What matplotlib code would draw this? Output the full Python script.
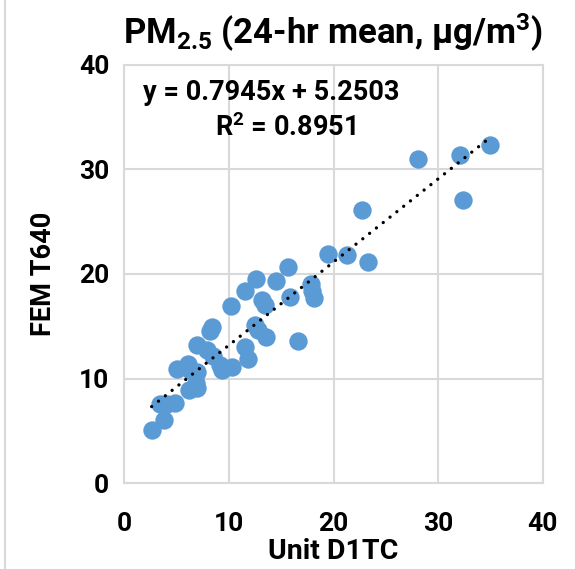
import matplotlib
matplotlib.use("Agg")
import matplotlib.pyplot as plt
from matplotlib.lines import Line2D

FONT = 'Roboto'
plt.rcParams['font.family'] = [FONT, 'DejaVu Sans']
plt.rcParams['font.weight'] = 'bold'
plt.rcParams['mathtext.fontset'] = 'custom'
plt.rcParams['mathtext.rm'] = FONT + ':bold'
plt.rcParams['mathtext.it'] = FONT + ':bold'
plt.rcParams['mathtext.bf'] = FONT + ':bold'

# Data (Unit D1TC vs FEM T640, 24-hr mean PM2.5)
unit_d1tc = [2.6, 3.8, 3.4, 4.1, 4.8, 5.0, 6.1, 6.3, 6.9, 6.2, 6.9, 6.8,
             6.9, 7.9, 8.5, 9.1, 9.3, 10.3, 8.2, 8.4, 10.2, 11.5, 11.8,
             11.5, 12.6, 12.5, 12.8, 13.5, 13.2, 13.4, 14.5, 15.6, 15.8,
             16.6, 17.8, 17.9, 18.1, 19.5, 21.3, 22.7, 23.3, 28.1, 32.1,
             35.0, 32.4]
fem_t640 = [5.1, 6.0, 7.6, 7.6, 7.7, 10.9, 11.4, 10.8, 10.6, 8.9, 9.1, 9.6,
            13.2, 12.7, 12.2, 11.3, 10.8, 11.1, 14.5, 14.9, 16.9, 13.0, 11.9,
            18.4, 19.5, 15.1, 14.6, 14.0, 17.5, 17.0, 19.3, 20.7, 17.8,
            13.6, 19.0, 18.4, 17.7, 21.9, 21.8, 26.1, 21.1, 31.0, 31.4,
            32.3, 27.1]
trend_slope = 0.7945
trend_intercept = 5.2503
r_squared = 0.8951

x_ticks = [0, 10, 20, 30, 40]
y_ticks = [0, 10, 20, 30, 40]

fig = plt.figure(figsize=(5.75, 5.69), dpi=100)
ax = fig.add_axes([0.2165, 0.151, 0.727, 0.735])

grid_col = '#D9D9D9'
ax.scatter(unit_d1tc, fem_t640, s=175, color='#5B9BD5', zorder=3, linewidths=0)

xmin, xmax = min(unit_d1tc), max(unit_d1tc)
ax.plot([xmin, xmax], [trend_slope * xmin + trend_intercept, trend_slope * xmax + trend_intercept],
        color='black', lw=2.4, linestyle=(0, (0.01, 2.6)), dash_capstyle='round', zorder=4)

ax.set_xlim(0, 40)
ax.set_ylim(0, 40)
ax.set_xticks(x_ticks)
ax.set_yticks(y_ticks)
ax.grid(True, color=grid_col, lw=1.5, zorder=0)
ax.set_axisbelow(True)
for sp in ax.spines.values():
    sp.set_color(grid_col)
    sp.set_linewidth(1.5)
ax.tick_params(length=0, labelsize=19)
ax.tick_params(axis='x', pad=21)
ax.tick_params(axis='y', pad=11)
for lab in ax.get_xticklabels() + ax.get_yticklabels():
    lab.set_fontweight('bold')

ax.set_xlabel('Unit D1TC', fontsize=20.5, fontweight='bold', labelpad=1)
ax.set_ylabel('FEM T640', fontsize=19.5, fontweight='bold', labelpad=16)

ax.set_title(r'PM$_{2.5}$ (24-hr mean, μg/m$^{3}$)', fontsize=25, fontweight='bold',
             x=0.5, pad=15)

eq = f'y = {trend_slope}x + {trend_intercept}'
ax.text(0.352, 0.935, eq, transform=ax.transAxes, ha='center', va='center',
        fontsize=19.5, fontweight='bold')
ax.text(0.385, 0.849, r'R$^{2}$' + f' = {r_squared}', transform=ax.transAxes,
        ha='center', va='center', fontsize=19.5, fontweight='bold')

fig.add_artist(Line2D([0.008, 0.008], [0, 1], color=grid_col, lw=1.5))

fig.savefig('out.png', dpi=100)
